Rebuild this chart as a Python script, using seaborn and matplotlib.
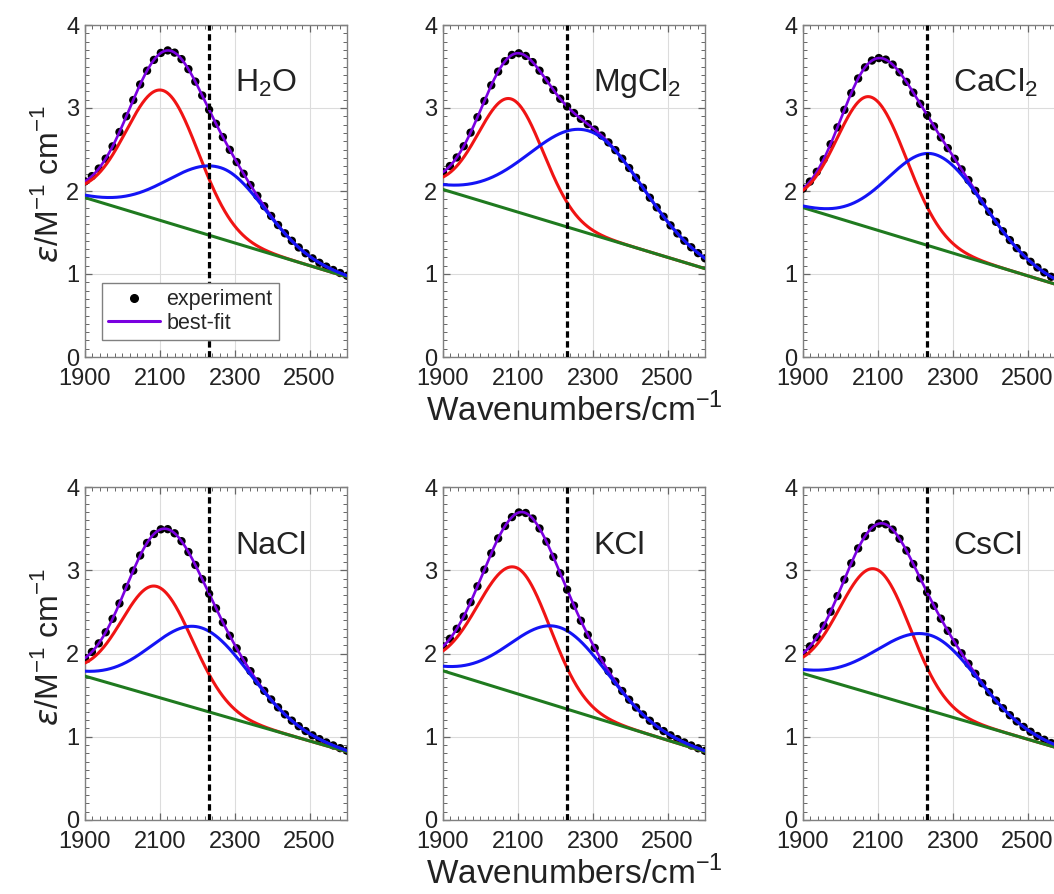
import numpy as np
import pandas as pd
import matplotlib
matplotlib.use("Agg")
import matplotlib.pyplot as plt
import seaborn as sns
from matplotlib.lines import Line2D
from matplotlib.ticker import MultipleLocator

# ---------------- data ----------------
samples = ["H$_2$O", "MgCl$_2$", "CaCl$_2$", "NaCl", "KCl", "CsCl"]

# linear baseline (green) at 1900 and 2600 cm-1
baseline_1900 = [1.92, 2.018, 1.80, 1.728, 1.792, 1.76]
baseline_2600 = [0.965, 1.065, 0.842, 0.82, 0.82, 0.839]

# red component (fit band 1): centre, height above baseline, left / right widths
red_center = [2108, 2082, 2081, 2092, 2094, 2094]
red_height = [1.575, 1.339, 1.58, 1.326, 1.512, 1.509]
red_width_left = [98, 87, 90, 93, 101, 96]
red_width_right = [95, 86, 96, 95, 92, 93]

# blue component (fit band 2)
blue_center = [2262, 2289, 2253, 2208, 2210, 2239]
blue_height = [0.855, 1.236, 1.123, 0.984, 0.954, 0.907]
blue_width_left = [140, 158, 124, 130, 130, 140]
blue_width_right = [118, 145, 133, 133, 130, 128]

marker_wavenumber = 2230
x_range = [1900, 2600]
x_ticks = [1900, 2100, 2300, 2500]
y_ticks = [0, 1, 2, 3, 4]
n_experiment_points = 39

# ---------------- style ----------------
sns.set_theme(style="white")
plt.rcParams["font.family"] = ["Liberation Sans", "DejaVu Sans"]
plt.rcParams["mathtext.fontset"] = "custom"
plt.rcParams["mathtext.rm"] = "Liberation Sans"
plt.rcParams["mathtext.it"] = "DejaVu Sans:italic"
plt.rcParams["mathtext.bf"] = "Liberation Sans:bold"

C_RED = "#F01414"
C_BLUE = "#1414F5"
C_GREEN = "#1F7A1F"
C_PURPLE = "#7A00E0"
C_SPINE = "#808080"
C_TICK = "#666666"
C_TEXT = "#222222"


def band(x, c, h, wl, wr):
    w = np.where(x < c, wl, wr)
    return h * np.exp(-((x - c) ** 2) / (2.0 * w ** 2))


W, H = 1054, 894
fig = plt.figure(figsize=(W / 100, H / 100), dpi=100)
fig.patch.set_facecolor("white")

col_left = [85, 443, 803]
row_top = [25, 487]
row_bottom = [357, 820]
ax_w = 262

x_fine = np.linspace(x_range[0], x_range[1], 701)
x_exp = np.linspace(x_range[0], x_range[1], n_experiment_points)

axes = []
for i, name in enumerate(samples):
    r, c = divmod(i, 3)
    left = col_left[c] / W
    bottom = 1 - row_bottom[r] / H
    height = (row_bottom[r] - row_top[r]) / H
    ax = fig.add_axes([left, bottom, ax_w / W, height])
    axes.append(ax)

    def curves(x):
        base = baseline_1900[i] + (baseline_2600[i] - baseline_1900[i]) * (x - 1900) / 700.0
        red = band(x, red_center[i], red_height[i], red_width_left[i], red_width_right[i])
        blue = band(x, blue_center[i], blue_height[i], blue_width_left[i], blue_width_right[i])
        return base, base + red, base + blue, base + red + blue

    base, red, blue, fit = curves(x_fine)
    _, _, _, exp_vals = curves(x_exp)

    df = pd.DataFrame({"x": x_fine, "base": base, "red": red, "blue": blue, "fit": fit})
    dexp = pd.DataFrame({"x": x_exp, "y": exp_vals})

    ax.grid(True, color="#dcdcdc", lw=0.8)
    ax.set_axisbelow(True)

    sns.scatterplot(data=dexp, x="x", y="y", ax=ax, color="black", s=36,
                    edgecolor="none", legend=False, zorder=3)
    sns.lineplot(data=df, x="x", y="fit", ax=ax, color=C_PURPLE, lw=1.9, zorder=4)
    sns.lineplot(data=df, x="x", y="red", ax=ax, color=C_RED, lw=2.2, zorder=5)
    sns.lineplot(data=df, x="x", y="base", ax=ax, color=C_GREEN, lw=2.2, zorder=5.5)
    sns.lineplot(data=df, x="x", y="blue", ax=ax, color=C_BLUE, lw=2.2, zorder=6)
    ax.axvline(marker_wavenumber, color="black", lw=2.3, ls=(0, (2.0, 1.1)), zorder=7)

    ax.set_xlim(*x_range)
    ax.set_ylim(0, 4)
    ax.set_xticks(x_ticks)
    ax.set_yticks(y_ticks)
    ax.xaxis.set_minor_locator(MultipleLocator(20))
    ax.yaxis.set_minor_locator(MultipleLocator(0.1))
    ax.tick_params(which="both", direction="in", top=True, right=True,
                   bottom=True, left=True, color=C_TICK)
    ax.tick_params(which="major", length=5, width=0.9, labelsize=17, labelcolor=C_TEXT)
    ax.tick_params(axis="x", which="major", pad=8)
    ax.tick_params(axis="y", which="major", pad=4)
    ax.tick_params(which="minor", length=3, width=0.7)
    for sp in ax.spines.values():
        sp.set_color(C_SPINE)
        sp.set_linewidth(1.0)
    ax.set_xlabel("")
    ax.set_ylabel("")

    ax.text(0.573, 0.80, name, transform=ax.transAxes, fontsize=23,
            color=C_TEXT, ha="left", va="baseline", zorder=8)

    if c == 0:
        ax.set_ylabel(r"$\epsilon$/M$^{-1}$ cm$^{-1}$", fontsize=23, color=C_TEXT)
        ax.yaxis.set_label_coords(-0.075, 0.52)
    if c == 1:
        ax.set_xlabel(r"Wavenumbers/cm$^{-1}$", fontsize=24, color=C_TEXT)
        ax.xaxis.set_label_coords(0.5, -0.108)

handles = [
    Line2D([], [], marker="o", ls="none", color="black", markersize=5.5),
    Line2D([], [], color=C_PURPLE, lw=2.2),
]
leg = axes[0].legend(handles, ["experiment", "best-fit"], loc="lower left",
                     bbox_to_anchor=(0.065, 0.051), borderaxespad=0, fontsize=15.5,
                     handlelength=2.4, handletextpad=0.3, labelspacing=0.1,
                     borderpad=0.3, fancybox=False, framealpha=1, edgecolor=C_SPINE)
leg.get_frame().set_linewidth(1.0)
leg.set_zorder(10)

fig.savefig("out.png", dpi=100, facecolor="white")
